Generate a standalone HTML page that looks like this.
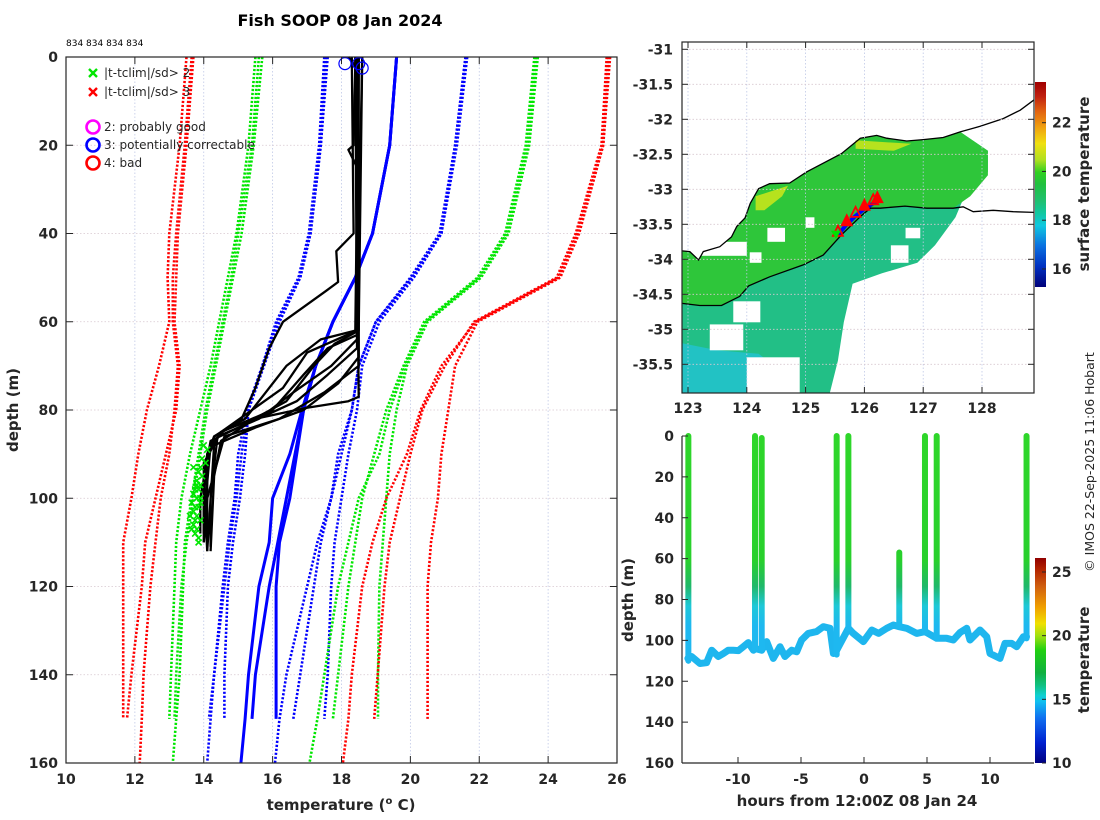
<!DOCTYPE html>
<html><head><meta charset="utf-8"><title>Fish SOOP 08 Jan 2024</title>
<style>
html,body{margin:0;padding:0;background:#fff;}
svg{display:block;font-family:"DejaVu Sans","Liberation Sans",sans-serif;}
.tk{font-size:14px;font-weight:bold;fill:#262626;}
.lab{font-size:15px;font-weight:bold;fill:#262626;}
.leg{font-size:12px;fill:#262626;}
</style></head>
<body>
<svg id="fig" width="1100" height="820" viewBox="0 0 1100 820" xmlns="http://www.w3.org/2000/svg">
<defs>
<linearGradient id="cbTop" x1="0" y1="1" x2="0" y2="0">
<stop offset="0" stop-color="#00007a"/><stop offset="0.1" stop-color="#0030c0"/><stop offset="0.2" stop-color="#0a70e0"/><stop offset="0.3" stop-color="#10c8e0"/><stop offset="0.36" stop-color="#10c8a0"/><stop offset="0.42" stop-color="#20c070"/><stop offset="0.5" stop-color="#20c040"/><stop offset="0.56" stop-color="#30d020"/><stop offset="0.62" stop-color="#b0e020"/><stop offset="0.7" stop-color="#f0e010"/><stop offset="0.78" stop-color="#f0a010"/><stop offset="0.86" stop-color="#e06010"/><stop offset="0.93" stop-color="#c02010"/><stop offset="1" stop-color="#a00000"/>
</linearGradient>
<linearGradient id="cbBot" x1="0" y1="1" x2="0" y2="0">
<stop offset="0" stop-color="#000080"/><stop offset="0.1" stop-color="#0020d0"/><stop offset="0.22" stop-color="#1070f0"/><stop offset="0.3" stop-color="#10c0f0"/><stop offset="0.33" stop-color="#10d0d0"/><stop offset="0.38" stop-color="#10c080"/><stop offset="0.44" stop-color="#10b040"/><stop offset="0.55" stop-color="#20d010"/><stop offset="0.62" stop-color="#a0e010"/><stop offset="0.68" stop-color="#f0e000"/><stop offset="0.76" stop-color="#f0a000"/><stop offset="0.86" stop-color="#d06010"/><stop offset="0.95" stop-color="#b02000"/><stop offset="1" stop-color="#900000"/>
</linearGradient>
<linearGradient id="castGrad" gradientUnits="userSpaceOnUse" x1="0" y1="436" x2="0" y2="763">
<stop offset="0" stop-color="#2ed62a"/><stop offset="0.38" stop-color="#28d02c"/><stop offset="0.46" stop-color="#20b86a"/><stop offset="0.52" stop-color="#1ec8d8"/><stop offset="0.58" stop-color="#1eb8f0"/><stop offset="1" stop-color="#1eb8f0"/>
</linearGradient>
</defs>
<text x="340" y="26" text-anchor="middle" style="font-size:16px;font-weight:bold">Fish SOOP 08 Jan 2024</text>
<text x="66" y="46" style="font-size:9px">834 834 834 834</text>
<g id="left"></g>
<g id="map"></g>
<g id="tp"></g>
<text transform="translate(1094,462) rotate(-90)" text-anchor="middle" style="font-size:12.5px" fill="#262626">© IMOS 22-Sep-2025 11:06 Hobart</text>
</svg>
<script>
// ---------- Profile plot data ----------
const climDepthA=[0,20,40,50,60,70,80,90,100,110,120,140,150];
const climDepthB=[0,20,40,50,60,70,80,90,100,110,120,140,150,160];
const redLeftA1=[13.7,13.5,13.25,13.2,13.15,13.3,13.2,12.9,12.6,12.3,12.2,11.9,11.77];
const redLeftA2=[13.5,13.3,13.0,12.95,13.0,12.7,12.35,12.1,11.9,11.66,11.66,11.66,11.66];
const redLeftB=[13.65,13.45,13.2,13.1,13.1,13.25,13.15,13.0,12.75,12.6,12.45,12.25,12.2,12.14];
const greenLeftA1=[15.7,15.45,15.1,14.85,14.6,14.35,14.1,13.9,13.7,13.5,13.35,13.2,13.15];
const greenLeftA2=[15.5,15.3,14.95,14.7,14.45,14.2,13.9,13.6,13.35,13.2,13.15,13.05,13.0];
const greenLeftB=[15.6,15.4,15.0,14.8,14.55,14.3,14.05,13.85,13.65,13.45,13.4,13.3,13.2,13.1];
const blueLeftA1=[17.6,17.4,17.1,16.8,16.2,15.75,15.3,15.2,15.05,14.85,14.7,14.6,14.6];
const blueLeftA2=[17.5,17.35,17.05,16.75,16.1,15.7,15.25,15.0,14.9,14.7,14.55,14.3,14.15];
const blueLeftB=[17.55,17.4,17.1,16.8,16.15,15.7,15.3,15.1,14.95,14.75,14.6,14.3,14.2,14.1];
const meanA1=[19.6,19.4,18.9,18.4,17.75,17.25,16.9,16.7,16.5,16.2,16.1,16.1,16.1];
const meanA2=[19.6,19.4,18.9,18.4,17.75,17.25,16.9,16.65,16.4,16.15,15.9,15.5,15.4];
const meanB=[19.6,19.4,18.9,18.4,17.75,17.25,16.85,16.5,16.0,15.9,15.6,15.3,15.2,15.08];
const blueRightA1=[21.6,21.3,20.9,20.1,19.1,18.6,18.45,18.2,18.0,17.8,17.7,17.6,17.5];
const blueRightA2=[21.6,21.3,20.85,20.0,19.0,18.5,18.3,17.9,17.7,17.4,17.2,16.8,16.6];
const blueRightB=[21.65,21.35,20.9,20.05,19.0,18.5,18.3,18.0,17.7,17.3,17.0,16.4,16.2,16.07];
const greenRightA1=[23.7,23.45,22.85,22.05,20.5,19.9,19.6,19.4,19.3,19.2,19.1,19.06,19.06];
const greenRightA2=[23.6,23.35,22.75,21.95,20.4,19.8,19.3,18.95,18.6,18.4,18.2,17.9,17.75];
const greenRightB=[23.65,23.4,22.8,22.0,20.45,19.85,19.4,19.1,18.5,18.2,17.9,17.5,17.3,17.07];
const redRightA1=[25.8,25.6,24.9,24.35,21.95,21.3,21.1,20.9,20.8,20.6,20.5,20.5,20.5];
const redRightA2=[25.7,25.55,24.8,24.25,21.85,21.0,20.35,20.0,19.7,19.4,19.25,19.05,18.95];
const redRightB=[25.75,25.6,24.85,24.3,21.9,20.9,20.3,19.9,19.3,18.9,18.6,18.3,18.2,18.04];
// observed XBT profiles (depth / temperature)
const prof1D=[0,40,44,51,53,60,66,75,82,86,90,100,110];
const prof1T=[18.3,18.35,17.85,17.9,17.55,16.3,15.9,15.5,15.1,14.3,14.1,14.0,14.0];
const prof2D=[0,62,64,70,76,82,86,95,112];
const prof2T=[18.5,18.4,17.4,16.4,15.8,15.2,14.3,14.0,14.1];
const prof3D=[0,63,66,72,80,85,90,110];
const prof3T=[18.6,18.45,17.6,16.9,16.0,14.5,14.1,14.1];
const prof4D=[0,64,70,76,82,86,100,111];
const prof4T=[18.4,18.45,17.7,16.6,15.6,14.4,14.2,14.2];
const prof5D=[0,66,72,78,83,87,95,112];
const prof5T=[18.5,18.45,17.6,16.7,15.3,14.5,14.3,14.2];
const prof6D=[0,68,74,80,84,88,112];
const prof6T=[18.45,18.5,17.9,16.9,15.5,14.3,14.1];
const prof7D=[0,70,76,82,86,100,110];
const prof7T=[18.5,18.5,17.5,16.2,14.6,14.1,14.0];
const prof8D=[0,77,78,79.5,82,84.5,88,105,110];
const prof8T=[18.4,18.5,18.2,17.0,15.5,14.6,14.2,14.0,14.1];
const prof9D=[0,62,65,70,78,84,87,100,108];
const prof9T=[18.6,18.5,17.8,17.2,16.4,15.0,14.2,13.9,13.9];
const prof10D=[0,2,20,21,25,62,67,75,85,92,108];
const prof10T=[18.2,18.4,18.35,18.2,18.45,18.45,17.0,16.3,14.5,14.0,14.0];
const flagTemp=[18.1,18.5,18.6];
const flagDepth=[1.5,1.5,2.5];
const xTemp=[14.0,14.1,13.95,14.05,13.9,13.85,13.95,13.8,13.9,13.75,13.85,13.7,13.8,13.9,13.65,13.75,13.85,13.7,13.6,13.8,13.9,13.7,13.65,13.8,13.75,13.85,13.7,13.8,13.9,13.75,13.85];
const xDepth=[88,89,91,92,93,94,95,96,97,98,98,99,100,100,101,102,102,103,104,104,105,106,107,107,108,109,93,97,101,105,110];
const tempTicks=[10,12,14,16,18,20,22,24,26];
const depthTicks=[0,20,40,60,80,100,120,140,160];

// ---------- Map data ----------
const coastLon=[122.9,123.03,123.18,123.26,123.54,123.74,123.83,123.97,124.06,124.2,124.39,124.73,125.02,125.36,125.61,125.93,126.21,126.38,126.72,127.0,127.34,127.63,127.97,128.36,128.65,128.89];
const coastLat=[-33.88,-33.89,-34.01,-33.89,-33.82,-33.68,-33.53,-33.41,-33.2,-32.99,-32.92,-32.91,-32.75,-32.6,-32.49,-32.27,-32.23,-32.27,-32.31,-32.29,-32.26,-32.18,-32.1,-31.99,-31.87,-31.72];
const isoLon=[122.9,123.2,123.57,123.88,124.03,124.39,124.96,125.3,125.61,125.93,126.1,126.27,126.69,127.06,127.51,127.68,127.85,128.19,128.53,128.89];
const isoLat=[-34.63,-34.66,-34.66,-34.53,-34.38,-34.25,-34.08,-33.94,-33.65,-33.39,-33.27,-33.27,-33.24,-33.27,-33.27,-33.25,-33.32,-33.3,-33.32,-33.33];
const offEdgeLon=[128.1,128.1,127.75,127.55,127.2,126.9,126.3,125.8,125.65,125.55,125.4,122.9];
const offEdgeLat=[-32.45,-32.75,-33.0,-33.4,-33.8,-34.05,-34.2,-34.35,-34.9,-35.45,-35.95,-35.95];
const cyanLon=[122.9,123.5,124.2,124.6,124.7,122.9];
const cyanLat=[-35.2,-35.3,-35.35,-35.6,-35.95,-35.95];
const yg1Lon=[124.15,124.7,124.6,124.3,124.15];
const yg1Lat=[-33.1,-32.95,-33.1,-33.3,-33.3];
const yg2Lon=[125.85,126.8,126.5,125.85];
const yg2Lat=[-32.3,-32.35,-32.45,-32.42];
const holeLon1=[123.2,124.35,125.0,123.77,123.37,124.0,126.45,126.7,124.05];
const holeLat1=[-33.75,-33.55,-33.4,-34.6,-34.93,-35.4,-33.8,-33.55,-33.9];
const holeLon2=[124.0,124.65,125.15,124.23,123.94,124.9,126.75,126.95,124.25];
const holeLat2=[-33.95,-33.75,-33.55,-34.9,-35.3,-35.92,-34.05,-33.7,-34.05];
const trackLon=[125.55,125.7,125.85,126.0,126.15,126.22];
const trackLat=[-33.65,-33.5,-33.38,-33.28,-33.2,-33.17];
const lonTicks=[123,124,125,126,127,128];
const latTicks=[-31,-31.5,-32,-32.5,-33,-33.5,-34,-34.5,-35,-35.5];
const sstTicks=[16,18,20,22];

// ---------- Depth-time plot data ----------
const bottomHours=[-13.98,-13.68,-13.02,-12.49,-12.09,-11.56,-11.16,-10.77,-10.37,-9.97,-9.58,-9.18,-8.78,-8.65,-8.12,-7.72,-7.2,-6.67,-6.27,-5.74,-5.34,-4.95,-4.42,-3.76,-3.23,-2.7,-2.43,-2.17,-1.24,-0.85,-0.05,0.62,1.16,1.8,2.33,2.8,3.39,4.18,4.84,5.77,6.56,7.09,7.62,8.15,8.41,9.21,9.74,10.0,10.79,11.19,11.72,12.12,12.65,12.9];
const bottomDepth=[108.8,107.9,111.3,110.9,104.8,107.9,106.4,104.8,104.8,105.0,103.1,101.1,104.8,104.0,104.8,100.6,108.8,103.1,107.9,104.8,105.6,99.8,96.6,95.7,93.3,94.1,106.4,104.8,94.1,96.6,100.6,94.9,96.6,94.1,92.5,93.3,94.1,96.6,95.7,99.0,99.0,99.8,96.2,94.1,99.8,94.9,98.2,106.4,108.8,101.5,101.5,103.1,98.2,98.2];
const castHours=[-13.94,-8.65,-8.12,-2.17,-1.24,2.8,4.84,5.77,12.9];
const castTop=[0,0,1,0,0,57,0,0,0];
const castBottom=[110,104,104,107,94,93,96,99,99];
const hourTicks=[-10,-5,0,5,10];
const tpDepthTicks=[0,20,40,60,80,100,120,140,160];
const tempCbTicks=[10,15,20,25];

const NS='http://www.w3.org/2000/svg';
function mk(parent,tag,attrs){const e=document.createElementNS(NS,tag);for(const k in attrs)e.setAttribute(k,attrs[k]);parent.appendChild(e);return e;}
function txt(parent,x,y,s,cls,anchor){const e=mk(parent,'text',{x:x,y:y,'class':cls,'text-anchor':anchor||'middle'});e.textContent=s;return e;}

// ===== Profile plot =====
const L=document.getElementById('left');
const LX0=66,LX1=617,LY0=57,LY1=763;
const X=t=>LX0+(t-10)*(LX1-LX0)/16;
const Y=d=>LY0+d*(LY1-LY0)/160;
tempTicks.forEach(t=>{if(t>10&&t<26){const g=mk(L,'line',{x1:X(t),x2:X(t),y1:LY0,y2:LY1,stroke:'#bfc8e6','stroke-width':0.8,'stroke-dasharray':'1.5,2'});}});
depthTicks.forEach(d=>{if(d>0&&d<160){const g=mk(L,'line',{x1:LX0,x2:LX1,y1:Y(d),y2:Y(d),stroke:'#d8c8d0','stroke-width':0.8,'stroke-dasharray':'1.5,2'});}});
function lineD(ts,ds,fx,fy){return ts.map((t,i)=>(i?'L':'M')+fx(t).toFixed(1)+','+fy(ds[i]).toFixed(1)).join('');}
const clim=[
 [redLeftA1,climDepthA,'#ff0000','clim-red-left-a1'],[redLeftA2,climDepthA,'#ff0000','clim-red-left-a2'],[redLeftB,climDepthB,'#ff0000','clim-red-left-b'],
 [greenLeftA1,climDepthA,'#00e600','clim-green-left-a1'],[greenLeftA2,climDepthA,'#00e600','clim-green-left-a2'],[greenLeftB,climDepthB,'#00e600','clim-green-left-b'],
 [blueLeftA1,climDepthA,'#0000ff','clim-blue-left-a1'],[blueLeftA2,climDepthA,'#0000ff','clim-blue-left-a2'],[blueLeftB,climDepthB,'#0000ff','clim-blue-left-b'],
 [blueRightA1,climDepthA,'#0000ff','clim-blue-right-a1'],[blueRightA2,climDepthA,'#0000ff','clim-blue-right-a2'],[blueRightB,climDepthB,'#0000ff','clim-blue-right-b'],
 [greenRightA1,climDepthA,'#00e600','clim-green-right-a1'],[greenRightA2,climDepthA,'#00e600','clim-green-right-a2'],[greenRightB,climDepthB,'#00e600','clim-green-right-b'],
 [redRightA1,climDepthA,'#ff0000','clim-red-right-a1'],[redRightA2,climDepthA,'#ff0000','clim-red-right-a2'],[redRightB,climDepthB,'#ff0000','clim-red-right-b']];
clim.forEach(c=>{const p=mk(L,'path',{d:lineD(c[0],c[1],X,Y),fill:'none',stroke:c[2],'stroke-width':2.6,'stroke-dasharray':'2.2,1.8'});
 
 });
[[meanA1,climDepthA,'clim-mean-a1'],[meanA2,climDepthA,'clim-mean-a2'],[meanB,climDepthB,'clim-mean-b']].forEach(c=>{const p=mk(L,'path',{d:lineD(c[0],c[1],X,Y),fill:'none',stroke:'#0000ff','stroke-width':3});
 
 });
const profs=[[prof1T,prof1D],[prof2T,prof2D],[prof3T,prof3D],[prof4T,prof4D],[prof5T,prof5D],[prof6T,prof6D],[prof7T,prof7D],[prof8T,prof8D],[prof9T,prof9D],[prof10T,prof10D]];
profs.forEach((p,i)=>{const e=mk(L,'path',{d:lineD(p[0],p[1],X,Y),fill:'none',stroke:'#000','stroke-width':2.3,'stroke-linejoin':'round'});
 
 });
xTemp.forEach((t,i)=>{const cx=X(t),cy=Y(xDepth[i]),r=3;const e=mk(L,'path',{d:`M${cx-r},${cy-r}L${cx+r},${cy+r}M${cx-r},${cy+r}L${cx+r},${cy-r}`,stroke:'#00e600','stroke-width':1.6});
 
 });
flagTemp.forEach((t,i)=>{const e=mk(L,'circle',{cx:X(t),cy:Y(flagDepth[i]),r:6,fill:'none',stroke:'#0000ff','stroke-width':1.2});
 
 });
// axes
const fr=mk(L,'rect',{x:LX0,y:LY0,width:LX1-LX0,height:LY1-LY0,fill:'none',stroke:'#262626','stroke-width':1.2});

tempTicks.forEach(t=>{mk(L,'line',{x1:X(t),x2:X(t),y1:LY1,y2:LY1-7,stroke:'#262626'});mk(L,'line',{x1:X(t),x2:X(t),y1:LY0,y2:LY0+7,stroke:'#262626'});
 const e=txt(L,X(t),LY1+21,String(t),'tk');});
depthTicks.forEach(d=>{mk(L,'line',{x1:LX0,x2:LX0+7,y1:Y(d),y2:Y(d),stroke:'#262626'});mk(L,'line',{x1:LX1,x2:LX1-7,y1:Y(d),y2:Y(d),stroke:'#262626'});
 const e=txt(L,LX0-8,Y(d)+5,String(d),'tk','end');});
{const e=mk(L,'text',{x:341,y:810,'class':'lab','text-anchor':'middle'});e.innerHTML='temperature (<tspan dy="-6" style="font-size:10px">o</tspan><tspan dy="6"> C)</tspan>';}
{const e=txt(L,0,0,'depth (m)','lab');e.setAttribute('transform','translate(18,410) rotate(-90)');}
// legend
{const g=mk(L,'g',{});
 [['#00e600',73,'|t-tclim|/sd> 2'],['#ff0000',92,'|t-tclim|/sd> 3']].forEach(r=>{mk(g,'path',{d:`M89,${r[1]-4}L97,${r[1]+4}M89,${r[1]+4}L97,${r[1]-4}`,stroke:r[0],'stroke-width':2.4});const t=txt(g,104,r[1]+4,r[2],'leg','start');});
 [['#ff00ff',127,'2: probably good'],['#0000ff',145,'3: potentially correctable'],['#ff0000',163,'4: bad']].forEach(r=>{mk(g,'circle',{cx:93,cy:r[1],r:6.5,fill:'none',stroke:r[0],'stroke-width':2.6});const t=txt(g,104,r[1]+4,r[2],'leg','start');});}

// ===== Map =====
const M=document.getElementById('map');
const MX0=682,MX1=1034,MY0=42,MY1=393;
const MX=lon=>688+(lon-123)*58.8;
const MY=lat=>49.3+(-31-lat)*70;
function poly(lons,lats){return lons.map((l,i)=>MX(l).toFixed(1)+','+MY(lats[i]).toFixed(1)).join(' ');}
const cp=mk(M,'clipPath',{id:'mapclip'});mk(cp,'rect',{x:MX0,y:MY0,width:MX1-MX0,height:MY1-MY0});
const mg=mk(M,'g',{'clip-path':'url(#mapclip)'});
{const lo=coastLon.filter(l=>l<=127.7).concat(offEdgeLon),la=coastLat.slice(0,coastLon.filter(l=>l<=127.7).length).concat(offEdgeLat);
 const e=mk(mg,'polygon',{points:poly(lo,la),fill:'#22bf86'});}
{const n=coastLon.filter(l=>l<=127.7).length;const lo=coastLon.slice(0,n).concat([128.1,128.1,127.8]).concat(isoLon.filter(l=>l<=127.6).reverse());
 const la=coastLat.slice(0,n).concat([-32.45,-32.8,-33.1]).concat(isoLat.slice(0,isoLon.filter(l=>l<=127.6).length).reverse());
 const e=mk(mg,'polygon',{points:poly(lo,la),fill:'#2ec63a'});}
{const e=mk(mg,'polygon',{points:poly(cyanLon,cyanLat),fill:'#22c2c4'});}
{const e=mk(mg,'polygon',{points:poly(yg1Lon,yg1Lat),fill:'#b6e21e'});}
{const e=mk(mg,'polygon',{points:poly(yg2Lon,yg2Lat),fill:'#b6e21e'});}
holeLon1.forEach((l,i)=>{const x1=MX(l),x2=MX(holeLon2[i]),y1=MY(holeLat1[i]),y2=MY(holeLat2[i]);const e=mk(mg,'rect',{x:x1,y:y1,width:x2-x1,height:y2-y1,fill:'#fff'});
 
 });
// grid
lonTicks.forEach(l=>{mk(M,'line',{x1:MX(l),x2:MX(l),y1:MY0,y2:MY1,stroke:'#bfc8e6','stroke-width':0.8,'stroke-dasharray':'1.5,2'});});
latTicks.forEach(l=>{mk(M,'line',{x1:MX0,x2:MX1,y1:MY(l),y2:MY(l),stroke:'#d8c8d0','stroke-width':0.8,'stroke-dasharray':'1.5,2'});});
{const e=mk(mg,'polyline',{points:poly(coastLon,coastLat),fill:'none',stroke:'#000','stroke-width':1.3});}
{const e=mk(mg,'polyline',{points:poly(isoLon,isoLat),fill:'none',stroke:'#000','stroke-width':1.3});}
{const e=mk(M,'polyline',{points:poly(trackLon,trackLat),fill:'none',stroke:'#0000ff','stroke-width':4});}
trackLon.forEach((l,i)=>{const x=MX(l),y=MY(trackLat[i])-3;const e=mk(M,'polygon',{points:`${x-5},${y+4} ${x+5},${y+4} ${x},${y-6}`,fill:i%2?'#ff0000':'none',stroke:'#ff0000','stroke-width':1.8});
 
 });
{const x=MX(trackLon[0]),y=MY(trackLat[0]);const e=mk(M,'polygon',{points:`${x-7},${y-4} ${x+3},${y-4} ${x-2},${y+4}`,fill:'#00e000'});}
{const e=mk(M,'rect',{x:MX0,y:MY0,width:MX1-MX0,height:MY1-MY0,fill:'none',stroke:'#262626','stroke-width':1.2});}
lonTicks.forEach(l=>{mk(M,'line',{x1:MX(l),x2:MX(l),y1:MY1,y2:MY1-6,stroke:'#262626'});mk(M,'line',{x1:MX(l),x2:MX(l),y1:MY0,y2:MY0+6,stroke:'#262626'});
 const e=txt(M,MX(l),MY1+20,String(l),'tk');});
latTicks.forEach(l=>{mk(M,'line',{x1:MX0,x2:MX0+6,y1:MY(l),y2:MY(l),stroke:'#262626'});mk(M,'line',{x1:MX1,x2:MX1-6,y1:MY(l),y2:MY(l),stroke:'#262626'});
 const e=txt(M,MX0-9,MY(l)+5,String(l),'tk','end');});
// top colorbar 15.26..23.67
const CT=v=>287-(v-15.26)*(287-82)/(23.67-15.26);
{const e=mk(M,'rect',{x:1035,y:82,width:11,height:205,fill:'url(#cbTop)'});}
sstTicks.forEach(v=>{mk(M,'line',{x1:1046,x2:1042,y1:CT(v),y2:CT(v),stroke:'#262626'});const e=txt(M,1052,CT(v)+5,String(v),'tk','start');});
{const e=txt(M,0,0,'surface temperature','lab');e.setAttribute('transform','translate(1089,184) rotate(-90)');}

// ===== Depth-time plot =====
const T=document.getElementById('tp');
const TX0=682,TX1=1034,TY0=436,TY1=763;
const HX=h=>864+h*12.6;
const HY=d=>TY0+d*(TY1-TY0)/160;
{const e=mk(T,'path',{d:lineD(bottomHours,bottomDepth,HX,HY),fill:'none',stroke:'#1eb6ee','stroke-width':7,'stroke-linejoin':'round','stroke-linecap':'round'});}
castHours.forEach((h,i)=>{const e=mk(T,'line',{x1:HX(h),x2:HX(h)+0.01,y1:HY(castTop[i]),y2:HY(castBottom[i]),stroke:'url(#castGrad)','stroke-width':6,'stroke-linecap':'round'});
 
 });
mk(T,'line',{x1:TX0,x2:TX0,y1:TY0,y2:TY1,stroke:'#262626','stroke-width':1.2});
mk(T,'line',{x1:TX0,x2:TX1,y1:TY1,y2:TY1,stroke:'#262626','stroke-width':1.2});
hourTicks.forEach(h=>{mk(T,'line',{x1:HX(h),x2:HX(h),y1:TY1,y2:TY1-6,stroke:'#262626'});const e=txt(T,HX(h),TY1+21,String(h),'tk');});
tpDepthTicks.forEach(d=>{mk(T,'line',{x1:TX0,x2:TX0+6,y1:HY(d),y2:HY(d),stroke:'#262626'});const e=txt(T,TX0-8,HY(d)+5,String(d),'tk','end');});
{const e=txt(T,857,806,'hours from 12:00Z 08 Jan 24','lab');}
{const e=txt(T,0,0,'depth (m)','lab');e.setAttribute('transform','translate(633,600) rotate(-90)');}
const CB=v=>763-(v-10)*(763-572)/15;
{const e=mk(T,'rect',{x:1035,y:CB(26.1),width:11,height:CB(10)-CB(26.1),fill:'url(#cbBot)'});}
tempCbTicks.forEach(v=>{mk(T,'line',{x1:1046,x2:1042,y1:CB(v),y2:CB(v),stroke:'#262626'});const e=txt(T,1052,CB(v)+5,String(v),'tk','start');});
{const e=txt(T,0,0,'temperature','lab');e.setAttribute('transform','translate(1089,660) rotate(-90)');}
</script>
</body></html>
